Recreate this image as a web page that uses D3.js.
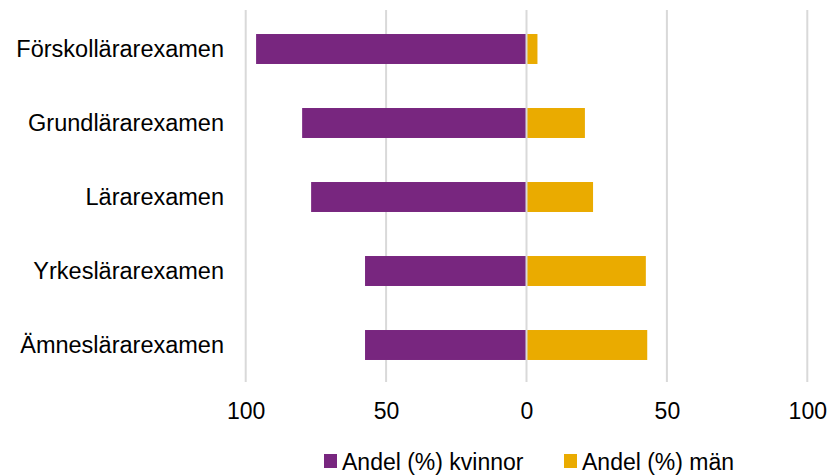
<!DOCTYPE html>
<html><head><meta charset="utf-8">
<script src="https://cdn.jsdelivr.net/npm/d3@7"></script>
<style>body{margin:0;background:#fff}text{font-family:"Liberation Sans",Arial,sans-serif}</style>
</head><body><svg id="c" width="837" height="476"></svg>
<script>
const categories = ["Förskollärarexamen","Grundlärarexamen","Lärarexamen","Yrkeslärarexamen","Ämneslärarexamen"];
const women = [96.3, 79.9, 76.7, 57.5, 57.5];
const men = [3.9, 20.8, 23.7, 42.5, 43.0];
const tickValues = [-100,-50,0,50,100];
const seriesNames = ["Andel (%) kvinnor","Andel (%) män"];
const colors = ["#78267F","#EAAB00"];

const svg = d3.select("#c");
const x = d3.scaleLinear().domain([-100,100]).range([245.7,807.3]);
const y = d3.scaleBand().domain(categories).range([12,382]).paddingInner(0.595).paddingOuter(0.2975);

svg.append("g").selectAll("line").data(tickValues.filter(d=>d!==0)).join("line")
  .attr("x1",d=>x(d)).attr("x2",d=>x(d)).attr("y1",10).attr("y2",382)
  .attr("stroke","#d9d9d9").attr("stroke-width",2);

svg.append("g").selectAll("rect").data(categories).join("rect")
  .attr("x",(d,i)=>x(-women[i])).attr("width",(d,i)=>x(0)-x(-women[i]))
  .attr("y",d=>y(d)).attr("height",y.bandwidth()).attr("fill",colors[0]);
svg.append("g").selectAll("rect").data(categories).join("rect")
  .attr("x",x(0)).attr("width",(d,i)=>x(men[i])-x(0))
  .attr("y",d=>y(d)).attr("height",y.bandwidth()).attr("fill",colors[1]);

svg.append("line").attr("x1",x(0)).attr("x2",x(0)).attr("y1",10).attr("y2",382)
  .attr("stroke","#d9d9d9").attr("stroke-width",2);

const xa = svg.append("g").attr("transform","translate(0,382)")
  .call(d3.axisBottom(x).tickValues(tickValues).tickFormat(d=>Math.abs(d)).tickSize(0).tickPadding(0));
xa.select(".domain").remove();
xa.selectAll("text").attr("dy",null).attr("y",37).attr("font-size","23px").attr("fill","#000")
  .style("font-family",'"Liberation Sans",Arial,sans-serif');

const ya = svg.append("g").attr("transform","translate(224,0)")
  .call(d3.axisLeft(y).tickSize(0).tickPadding(0));
ya.select(".domain").remove();
ya.selectAll("text").attr("font-size","23.5px").attr("fill","#000").attr("dy","0.35em")
  .style("font-family",'"Liberation Sans",Arial,sans-serif');

const lg = svg.append("g");
const lx = [324, 564];
seriesNames.forEach((n,i)=>{
  lg.append("rect").attr("x",lx[i]).attr("y",454).attr("width",13).attr("height",14).attr("fill",colors[i]);
  lg.append("text").attr("x",lx[i]+18).attr("y",470).attr("font-size","23px").attr("fill","#000").text(n);
});
</script></body></html>
